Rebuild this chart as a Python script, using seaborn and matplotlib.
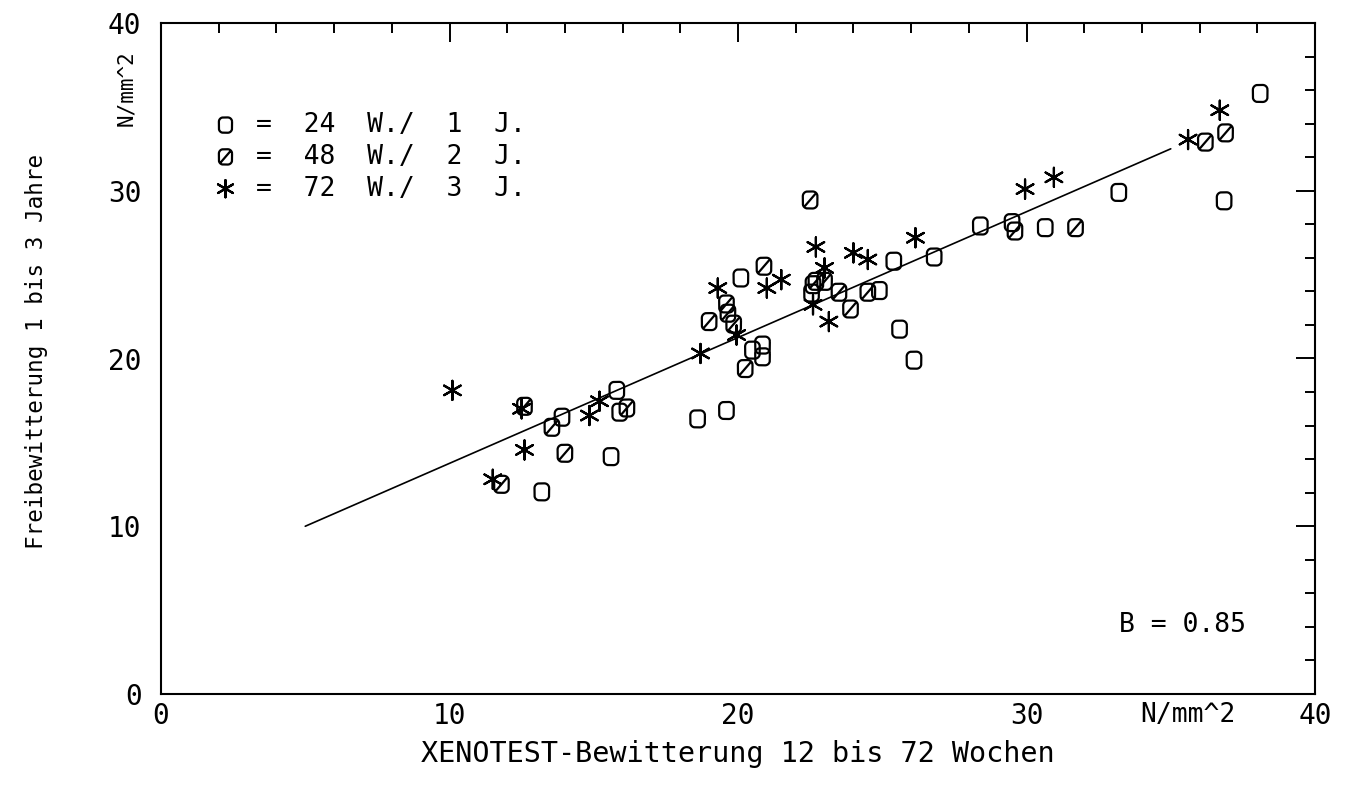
import numpy as np
import matplotlib
matplotlib.use("Agg")
import matplotlib.pyplot as plt
from matplotlib.path import Path
from matplotlib.ticker import MultipleLocator, FixedLocator
import seaborn as sns

# ---------------- data ----------------
o_x = [13.9, 15.8, 15.9, 18.6, 19.6, 15.6, 13.2, 25.4, 26.8, 28.4, 20.1, 20.5,
       20.85, 20.85, 22.6, 22.55, 24.9, 25.6, 26.1, 38.1, 36.85, 33.2, 30.65, 29.5]
o_y = [16.5, 18.1, 16.8, 16.4, 16.9, 14.15, 12.05, 25.8, 26.05, 27.9, 24.8, 20.5,
       20.8, 20.1, 24.4, 23.9, 24.05, 21.75, 19.9, 35.8, 29.4, 29.9, 27.8, 28.1]

d_x = [12.6, 13.55, 16.15, 14.0, 11.8, 22.5, 20.9, 19.6, 19.65, 19.85, 19.0, 20.25,
       22.7, 23.0, 23.5, 23.9, 24.5, 36.9, 36.2, 29.6, 31.7]
d_y = [17.15, 15.9, 17.05, 14.35, 12.5, 29.45, 25.5, 23.25, 22.7, 22.05, 22.2, 19.4,
       24.6, 24.6, 23.95, 22.95, 23.95, 33.45, 32.9, 27.6, 27.8]

s_x = [10.1, 12.5, 14.85, 15.2, 12.6, 11.5, 22.7, 24.0, 24.5, 26.15, 21.5, 21.0,
       19.3, 19.95, 18.7, 22.6, 23.0, 23.15, 36.7, 35.6, 29.95, 30.95]
s_y = [18.1, 17.0, 16.6, 17.45, 14.55, 12.8, 26.65, 26.3, 25.9, 27.2, 24.7, 24.2,
       24.2, 21.4, 20.3, 23.2, 25.4, 22.2, 34.8, 33.05, 30.1, 30.8]

line_x = [5.0, 35.0]
line_y = [10.0, 32.5]

series_labels = ["=  24  W./  1  J.", "=  48  W./  2  J.", "=  72  W./  3  J."]
x_ticks = [0, 10, 20, 30, 40]
y_ticks = [0, 10, 20, 30, 40]
unit_label = "N/mm^2"
x_title = "XENOTEST-Bewitterung 12 bis 72 Wochen"
y_title = "Freibewitterung 1 bis 3 Jahre"
b_text = "B = 0.85"

# ---------------- style ----------------
sns.set_theme(style="white")
plt.rcParams["font.family"] = ["DejaVu Sans Mono", "DejaVu Sans"]
plt.rcParams["text.color"] = "black"


def plotter_zero(slash=False, w=0.86, h=1.0, r=0.28):
    t = np.linspace(0, np.pi / 2, 8)
    cx, cy = w / 2 - r, h / 2 - r
    pts = []
    for a0 in [0, np.pi / 2, np.pi, 1.5 * np.pi]:
        for a in a0 + t:
            px = r * np.cos(a) + (cx if np.cos(a) >= -1e-9 else -cx)
            py = r * np.sin(a) + (cy if np.sin(a) >= -1e-9 else -cy)
            pts.append((px, py))
    pts.append(pts[0])
    codes = [Path.MOVETO] + [Path.LINETO] * (len(pts) - 1)
    if slash:
        pts += [(-w / 2 + 0.12, -h / 2 + 0.14), (w / 2 - 0.12, h / 2 - 0.14)]
        codes += [Path.MOVETO, Path.LINETO]
    return Path(pts, codes)


fig = plt.figure(figsize=(13.52, 7.95), dpi=100)
ax = fig.add_axes([161 / 1352, 1 - 694 / 795, (1315 - 161) / 1352, (694 - 23) / 795])

sns.lineplot(x=line_x, y=line_y, color="black", linewidth=1.2, ax=ax)

m_o = plotter_zero(False)
m_d = plotter_zero(True)
m_s = (6, 2, 0)

for xs, ys, mk, lab, sz in [(o_x, o_y, m_o, series_labels[0], 150),
                            (d_x, d_y, m_d, series_labels[1], 150),
                            (s_x, s_y, m_s, series_labels[2], 190)]:
    sns.scatterplot(x=xs, y=ys, marker=mk, s=sz, color="black", linewidth=1.6,
                    label=lab, ax=ax, legend=False)
    coll = ax.collections[-1]
    coll.set_facecolor("none")
    coll.set_edgecolor("black")
    coll.set_linewidth(1.6)

ax.set_xlim(0, 40)
ax.set_ylim(0, 40)
ax.xaxis.set_major_locator(FixedLocator(x_ticks))
ax.yaxis.set_major_locator(FixedLocator(y_ticks))
ax.xaxis.set_minor_locator(MultipleLocator(2))
ax.yaxis.set_minor_locator(MultipleLocator(2))
ax.set_xticklabels([str(v) for v in x_ticks])
ax.set_yticklabels([str(v) for v in y_ticks])

ax.tick_params(which="both", direction="in", top=True, right=True, width=1.4,
               color="black", labelcolor="black", labelsize=20)
ax.tick_params(which="major", length=14)
ax.tick_params(which="minor", length=7)
ax.tick_params(axis="x", which="major", pad=6)
ax.tick_params(axis="y", which="major", pad=14)

for sp in ax.spines.values():
    sp.set_color("black")
    sp.set_linewidth(1.5)

ax.set_xlabel(x_title, fontsize=20.5, color="black")
ax.set_ylabel(y_title, fontsize=16.3, color="black")
ax.xaxis.set_label_coords(0.5, -0.068)
ax.yaxis.set_label_coords(-0.098, 0.51)

ax.annotate(unit_label, xy=(35.6, 0), xycoords=("data", "axes fraction"),
            xytext=(0, -6), textcoords="offset points", ha="center", va="top",
            fontsize=19, color="black")
ax.annotate(unit_label, xy=(0, 36.1), xycoords=("axes fraction", "data"),
            xytext=(-18, 0), textcoords="offset points", ha="right", va="center",
            rotation=90, fontsize=15, color="black")

ax.text(35.4, 4.1, b_text, ha="center", va="center", fontsize=19, color="black")

leg = ax.legend(loc="upper left", bbox_to_anchor=(0.033, 0.887), frameon=False,
                fontsize=19, handletextpad=0.65, labelspacing=0.22, borderpad=0,
                handlelength=1.0, markerscale=0.9)
for t in leg.get_texts():
    t.set_color("black")

fig.savefig("out.png", dpi=100, facecolor="white")
